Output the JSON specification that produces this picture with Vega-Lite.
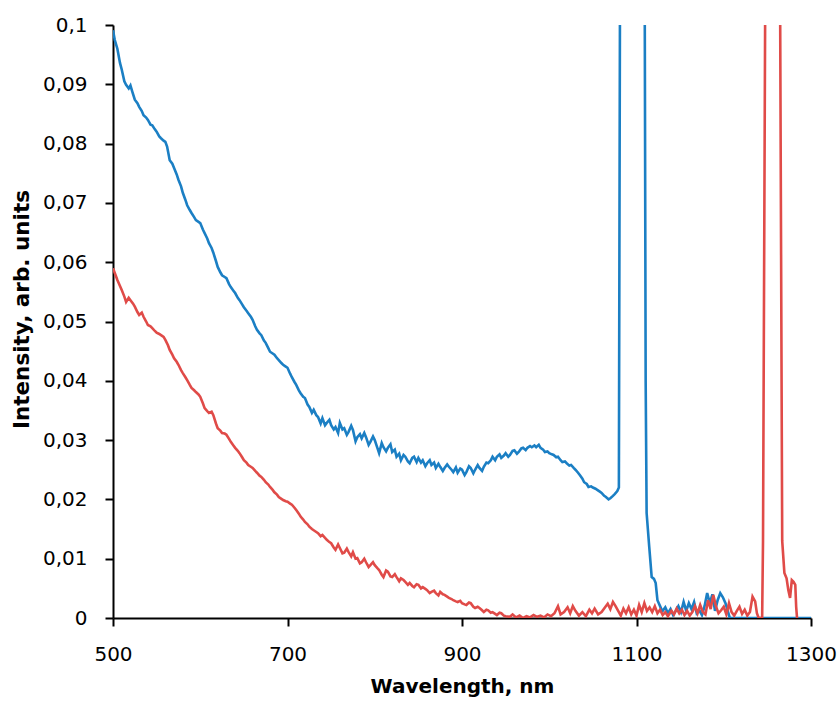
{
  "$schema": "https://vega.github.io/schema/vega-lite/v6.json",
  "autosize": {"type": "none"},
  "width": 698,
  "height": 593,
  "padding": {"left": 113, "top": 25, "right": 29, "bottom": 84},
  "background": "white",
  "config": {
    "view": {"stroke": null},
    "axis": {
      "grid": false,
      "domainColor": "black",
      "domainWidth": 2,
      "tickColor": "black",
      "tickWidth": 2,
      "tickSize": 8,
      "labelFont": "DejaVu Sans",
      "labelFontSize": 20,
      "labelColor": "black",
      "titleFont": "DejaVu Sans",
      "titleFontSize": 20,
      "titleFontWeight": "bold",
      "titleColor": "black"
    }
  },
  "data": {
    "values": [
      {"s":"b","x":500,"y":0.0991},{"s":"b","x":502,"y":0.0975},{"s":"b","x":505,"y":0.0960},{"s":"b","x":508,"y":0.0936},{"s":"b","x":510,"y":0.0925},{"s":"b","x":513,"y":0.0905},{"s":"b","x":515,"y":0.0899},{"s":"b","x":518,"y":0.0893},{"s":"b","x":520,"y":0.0898},{"s":"b","x":522,"y":0.0888},{"s":"b","x":525,"y":0.0874},{"s":"b","x":528,"y":0.0868},{"s":"b","x":530,"y":0.0862},{"s":"b","x":533,"y":0.0855},{"s":"b","x":535,"y":0.0848},{"s":"b","x":538,"y":0.0844},{"s":"b","x":540,"y":0.0840},{"s":"b","x":543,"y":0.0832},{"s":"b","x":545,"y":0.0831},{"s":"b","x":548,"y":0.0824},{"s":"b","x":550,"y":0.0820},{"s":"b","x":553,"y":0.0812},{"s":"b","x":555,"y":0.0809},{"s":"b","x":558,"y":0.0805},{"s":"b","x":560,"y":0.0803},{"s":"b","x":562,"y":0.0795},{"s":"b","x":565,"y":0.0772},{"s":"b","x":568,"y":0.0766},{"s":"b","x":570,"y":0.0759},{"s":"b","x":573,"y":0.0748},{"s":"b","x":575,"y":0.0739},{"s":"b","x":578,"y":0.0728},{"s":"b","x":580,"y":0.0717},{"s":"b","x":583,"y":0.0705},{"s":"b","x":585,"y":0.0696},{"s":"b","x":588,"y":0.0688},{"s":"b","x":590,"y":0.0683},{"s":"b","x":593,"y":0.0676},{"s":"b","x":595,"y":0.0671},{"s":"b","x":598,"y":0.0668},{"s":"b","x":600,"y":0.0666},{"s":"b","x":603,"y":0.0655},{"s":"b","x":605,"y":0.0649},{"s":"b","x":608,"y":0.0640},{"s":"b","x":610,"y":0.0632},{"s":"b","x":613,"y":0.0624},{"s":"b","x":615,"y":0.0616},{"s":"b","x":618,"y":0.0602},{"s":"b","x":620,"y":0.0592},{"s":"b","x":623,"y":0.0583},{"s":"b","x":625,"y":0.0578},{"s":"b","x":628,"y":0.0575},{"s":"b","x":630,"y":0.0573},{"s":"b","x":633,"y":0.0563},{"s":"b","x":635,"y":0.0558},{"s":"b","x":638,"y":0.0552},{"s":"b","x":640,"y":0.0548},{"s":"b","x":643,"y":0.0540},{"s":"b","x":645,"y":0.0536},{"s":"b","x":648,"y":0.0529},{"s":"b","x":650,"y":0.0524},{"s":"b","x":653,"y":0.0518},{"s":"b","x":655,"y":0.0514},{"s":"b","x":658,"y":0.0508},{"s":"b","x":660,"y":0.0503},{"s":"b","x":663,"y":0.0492},{"s":"b","x":665,"y":0.0486},{"s":"b","x":668,"y":0.0480},{"s":"b","x":670,"y":0.0477},{"s":"b","x":673,"y":0.0468},{"s":"b","x":675,"y":0.0464},{"s":"b","x":678,"y":0.0455},{"s":"b","x":680,"y":0.0449},{"s":"b","x":683,"y":0.0446},{"s":"b","x":685,"y":0.0444},{"s":"b","x":688,"y":0.0438},{"s":"b","x":690,"y":0.0435},{"s":"b","x":693,"y":0.0430},{"s":"b","x":695,"y":0.0427},{"s":"b","x":698,"y":0.0424},{"s":"b","x":700,"y":0.0422},{"s":"b","x":703,"y":0.0412},{"s":"b","x":705,"y":0.0406},{"s":"b","x":708,"y":0.0398},{"s":"b","x":710,"y":0.0393},{"s":"b","x":713,"y":0.0384},{"s":"b","x":715,"y":0.0379},{"s":"b","x":718,"y":0.0373},{"s":"b","x":720,"y":0.0371},{"s":"b","x":723,"y":0.0360},{"s":"b","x":725,"y":0.0356},{"s":"b","x":728,"y":0.0346},{"s":"b","x":730,"y":0.0351},{"s":"b","x":733,"y":0.0342},{"s":"b","x":735,"y":0.0339},{"s":"b","x":738,"y":0.0328},{"s":"b","x":740,"y":0.0337},{"s":"b","x":743,"y":0.0325},{"s":"b","x":745,"y":0.0329},{"s":"b","x":748,"y":0.0334},{"s":"b","x":750,"y":0.0325},{"s":"b","x":753,"y":0.0318},{"s":"b","x":755,"y":0.0322},{"s":"b","x":758,"y":0.0312},{"s":"b","x":760,"y":0.0329},{"s":"b","x":763,"y":0.0318},{"s":"b","x":765,"y":0.0320},{"s":"b","x":768,"y":0.0309},{"s":"b","x":770,"y":0.0314},{"s":"b","x":773,"y":0.0324},{"s":"b","x":775,"y":0.0317},{"s":"b","x":778,"y":0.0298},{"s":"b","x":780,"y":0.0305},{"s":"b","x":783,"y":0.0310},{"s":"b","x":785,"y":0.0303},{"s":"b","x":788,"y":0.0312},{"s":"b","x":790,"y":0.0305},{"s":"b","x":793,"y":0.0292},{"s":"b","x":795,"y":0.0297},{"s":"b","x":798,"y":0.0306},{"s":"b","x":800,"y":0.0300},{"s":"b","x":803,"y":0.0287},{"s":"b","x":805,"y":0.0278},{"s":"b","x":808,"y":0.0295},{"s":"b","x":810,"y":0.0288},{"s":"b","x":813,"y":0.0281},{"s":"b","x":815,"y":0.0287},{"s":"b","x":818,"y":0.0293},{"s":"b","x":820,"y":0.0280},{"s":"b","x":823,"y":0.0284},{"s":"b","x":825,"y":0.0272},{"s":"b","x":828,"y":0.0277},{"s":"b","x":830,"y":0.0266},{"s":"b","x":833,"y":0.0275},{"s":"b","x":835,"y":0.0272},{"s":"b","x":838,"y":0.0264},{"s":"b","x":840,"y":0.0261},{"s":"b","x":843,"y":0.0270},{"s":"b","x":845,"y":0.0272},{"s":"b","x":848,"y":0.0263},{"s":"b","x":850,"y":0.0270},{"s":"b","x":853,"y":0.0262},{"s":"b","x":855,"y":0.0266},{"s":"b","x":858,"y":0.0256},{"s":"b","x":860,"y":0.0261},{"s":"b","x":863,"y":0.0266},{"s":"b","x":865,"y":0.0258},{"s":"b","x":868,"y":0.0262},{"s":"b","x":870,"y":0.0253},{"s":"b","x":873,"y":0.0260},{"s":"b","x":875,"y":0.0255},{"s":"b","x":878,"y":0.0248},{"s":"b","x":880,"y":0.0253},{"s":"b","x":883,"y":0.0259},{"s":"b","x":885,"y":0.0255},{"s":"b","x":888,"y":0.0250},{"s":"b","x":890,"y":0.0246},{"s":"b","x":893,"y":0.0254},{"s":"b","x":895,"y":0.0245},{"s":"b","x":898,"y":0.0252},{"s":"b","x":900,"y":0.0250},{"s":"b","x":903,"y":0.0241},{"s":"b","x":905,"y":0.0246},{"s":"b","x":908,"y":0.0256},{"s":"b","x":910,"y":0.0253},{"s":"b","x":913,"y":0.0244},{"s":"b","x":915,"y":0.0250},{"s":"b","x":918,"y":0.0258},{"s":"b","x":920,"y":0.0253},{"s":"b","x":923,"y":0.0248},{"s":"b","x":925,"y":0.0255},{"s":"b","x":928,"y":0.0262},{"s":"b","x":930,"y":0.0261},{"s":"b","x":933,"y":0.0266},{"s":"b","x":935,"y":0.0272},{"s":"b","x":938,"y":0.0266},{"s":"b","x":940,"y":0.0272},{"s":"b","x":943,"y":0.0276},{"s":"b","x":945,"y":0.0270},{"s":"b","x":948,"y":0.0274},{"s":"b","x":950,"y":0.0278},{"s":"b","x":953,"y":0.0272},{"s":"b","x":955,"y":0.0275},{"s":"b","x":958,"y":0.0282},{"s":"b","x":960,"y":0.0283},{"s":"b","x":963,"y":0.0277},{"s":"b","x":965,"y":0.0280},{"s":"b","x":968,"y":0.0286},{"s":"b","x":970,"y":0.0287},{"s":"b","x":973,"y":0.0283},{"s":"b","x":975,"y":0.0287},{"s":"b","x":978,"y":0.0290},{"s":"b","x":980,"y":0.0288},{"s":"b","x":983,"y":0.0291},{"s":"b","x":985,"y":0.0288},{"s":"b","x":988,"y":0.0292},{"s":"b","x":990,"y":0.0287},{"s":"b","x":993,"y":0.0284},{"s":"b","x":995,"y":0.0280},{"s":"b","x":998,"y":0.0281},{"s":"b","x":1000,"y":0.0278},{"s":"b","x":1003,"y":0.0276},{"s":"b","x":1005,"y":0.0275},{"s":"b","x":1008,"y":0.0271},{"s":"b","x":1010,"y":0.0272},{"s":"b","x":1013,"y":0.0266},{"s":"b","x":1015,"y":0.0263},{"s":"b","x":1018,"y":0.0264},{"s":"b","x":1020,"y":0.0261},{"s":"b","x":1023,"y":0.0257},{"s":"b","x":1025,"y":0.0258},{"s":"b","x":1028,"y":0.0253},{"s":"b","x":1030,"y":0.0250},{"s":"b","x":1033,"y":0.0245},{"s":"b","x":1035,"y":0.0241},{"s":"b","x":1038,"y":0.0235},{"s":"b","x":1040,"y":0.0229},{"s":"b","x":1043,"y":0.0226},{"s":"b","x":1045,"y":0.0221},{"s":"b","x":1048,"y":0.0222},{"s":"b","x":1050,"y":0.0220},{"s":"b","x":1053,"y":0.0218},{"s":"b","x":1055,"y":0.0216},{"s":"b","x":1058,"y":0.0213},{"s":"b","x":1060,"y":0.0211},{"s":"b","x":1063,"y":0.0206},{"s":"b","x":1065,"y":0.0204},{"s":"b","x":1068,"y":0.0200},{"s":"b","x":1070,"y":0.0202},{"s":"b","x":1073,"y":0.0206},{"s":"b","x":1075,"y":0.0209},{"s":"b","x":1078,"y":0.0214},{"s":"b","x":1079.8,"y":0.0220},{"s":"b","x":1081,"y":0.1},{"s":"b","x":1082,"y":0.2},{"s":"b","x":1108,"y":0.2},{"s":"b","x":1109.5,"y":0.1},{"s":"b","x":1110.5,"y":0.04},{"s":"b","x":1111.6,"y":0.0177},{"s":"b","x":1114.6,"y":0.0120},{"s":"b","x":1117.4,"y":0.0069},{"s":"b","x":1120,"y":0.0066},{"s":"b","x":1122,"y":0.0059},{"s":"b","x":1124,"y":0.0030},{"s":"b","x":1127,"y":0.0020},{"s":"b","x":1129,"y":0.0013},{"s":"b","x":1130,"y":0.0012},{"s":"b","x":1133,"y":0.0018},{"s":"b","x":1136,"y":0.0008},{"s":"b","x":1139,"y":0.0015},{"s":"b","x":1142,"y":0.0005},{"s":"b","x":1145,"y":0.0012},{"s":"b","x":1148,"y":0.0020},{"s":"b","x":1151,"y":0.0010},{"s":"b","x":1154,"y":0.0027},{"s":"b","x":1157,"y":0.0012},{"s":"b","x":1160,"y":0.0025},{"s":"b","x":1163,"y":0.0015},{"s":"b","x":1166,"y":0.0027},{"s":"b","x":1169,"y":0.0008},{"s":"b","x":1172,"y":0.0013},{"s":"b","x":1175,"y":0.0005},{"s":"b","x":1178,"y":0.0020},{"s":"b","x":1181,"y":0.0042},{"s":"b","x":1184,"y":0.0025},{"s":"b","x":1187,"y":0.0040},{"s":"b","x":1190,"y":0.0012},{"s":"b","x":1193,"y":0.0030},{"s":"b","x":1196,"y":0.0042},{"s":"b","x":1199,"y":0.0035},{"s":"b","x":1202,"y":0.0025},{"s":"b","x":1205,"y":0.0010},{"s":"b","x":1207,"y":0},{"s":"b","x":1300,"y":0},
      {"s":"r","x":500,"y":0.0590},{"s":"r","x":503,"y":0.0578},{"s":"r","x":505,"y":0.0570},{"s":"r","x":508,"y":0.0560},{"s":"r","x":510,"y":0.0553},{"s":"r","x":513,"y":0.0542},{"s":"r","x":515,"y":0.0533},{"s":"r","x":518,"y":0.0540},{"s":"r","x":520,"y":0.0536},{"s":"r","x":523,"y":0.0530},{"s":"r","x":525,"y":0.0525},{"s":"r","x":528,"y":0.0516},{"s":"r","x":530,"y":0.0511},{"s":"r","x":533,"y":0.0515},{"s":"r","x":535,"y":0.0508},{"s":"r","x":538,"y":0.0500},{"s":"r","x":540,"y":0.0494},{"s":"r","x":543,"y":0.0492},{"s":"r","x":545,"y":0.0489},{"s":"r","x":548,"y":0.0484},{"s":"r","x":550,"y":0.0481},{"s":"r","x":553,"y":0.0479},{"s":"r","x":555,"y":0.0477},{"s":"r","x":558,"y":0.0474},{"s":"r","x":560,"y":0.0469},{"s":"r","x":563,"y":0.0460},{"s":"r","x":565,"y":0.0452},{"s":"r","x":568,"y":0.0444},{"s":"r","x":570,"y":0.0438},{"s":"r","x":573,"y":0.0432},{"s":"r","x":575,"y":0.0427},{"s":"r","x":578,"y":0.0418},{"s":"r","x":580,"y":0.0413},{"s":"r","x":583,"y":0.0406},{"s":"r","x":585,"y":0.0401},{"s":"r","x":588,"y":0.0393},{"s":"r","x":590,"y":0.0388},{"s":"r","x":593,"y":0.0384},{"s":"r","x":595,"y":0.0381},{"s":"r","x":598,"y":0.0377},{"s":"r","x":600,"y":0.0373},{"s":"r","x":603,"y":0.0362},{"s":"r","x":605,"y":0.0354},{"s":"r","x":608,"y":0.0349},{"s":"r","x":610,"y":0.0346},{"s":"r","x":613,"y":0.0348},{"s":"r","x":615,"y":0.0342},{"s":"r","x":618,"y":0.0328},{"s":"r","x":620,"y":0.0320},{"s":"r","x":623,"y":0.0316},{"s":"r","x":625,"y":0.0312},{"s":"r","x":628,"y":0.0311},{"s":"r","x":630,"y":0.0309},{"s":"r","x":633,"y":0.0302},{"s":"r","x":635,"y":0.0297},{"s":"r","x":638,"y":0.0291},{"s":"r","x":640,"y":0.0287},{"s":"r","x":643,"y":0.0282},{"s":"r","x":645,"y":0.0278},{"s":"r","x":648,"y":0.0271},{"s":"r","x":650,"y":0.0266},{"s":"r","x":653,"y":0.0262},{"s":"r","x":655,"y":0.0258},{"s":"r","x":658,"y":0.0255},{"s":"r","x":660,"y":0.0253},{"s":"r","x":663,"y":0.0248},{"s":"r","x":665,"y":0.0245},{"s":"r","x":668,"y":0.0240},{"s":"r","x":670,"y":0.0238},{"s":"r","x":673,"y":0.0233},{"s":"r","x":675,"y":0.0229},{"s":"r","x":678,"y":0.0225},{"s":"r","x":680,"y":0.0221},{"s":"r","x":683,"y":0.0216},{"s":"r","x":685,"y":0.0212},{"s":"r","x":688,"y":0.0208},{"s":"r","x":690,"y":0.0204},{"s":"r","x":693,"y":0.0201},{"s":"r","x":695,"y":0.0199},{"s":"r","x":698,"y":0.0197},{"s":"r","x":700,"y":0.0196},{"s":"r","x":703,"y":0.0193},{"s":"r","x":705,"y":0.0191},{"s":"r","x":708,"y":0.0186},{"s":"r","x":710,"y":0.0182},{"s":"r","x":713,"y":0.0176},{"s":"r","x":715,"y":0.0171},{"s":"r","x":718,"y":0.0166},{"s":"r","x":720,"y":0.0162},{"s":"r","x":723,"y":0.0158},{"s":"r","x":725,"y":0.0154},{"s":"r","x":728,"y":0.0150},{"s":"r","x":730,"y":0.0148},{"s":"r","x":733,"y":0.0145},{"s":"r","x":735,"y":0.0143},{"s":"r","x":738,"y":0.0138},{"s":"r","x":740,"y":0.0140},{"s":"r","x":743,"y":0.0135},{"s":"r","x":745,"y":0.0132},{"s":"r","x":748,"y":0.0128},{"s":"r","x":750,"y":0.0126},{"s":"r","x":753,"y":0.0119},{"s":"r","x":755,"y":0.0115},{"s":"r","x":758,"y":0.0124},{"s":"r","x":760,"y":0.0118},{"s":"r","x":763,"y":0.0109},{"s":"r","x":765,"y":0.0110},{"s":"r","x":768,"y":0.0117},{"s":"r","x":770,"y":0.0111},{"s":"r","x":773,"y":0.0104},{"s":"r","x":775,"y":0.0111},{"s":"r","x":778,"y":0.0100},{"s":"r","x":780,"y":0.0101},{"s":"r","x":783,"y":0.0092},{"s":"r","x":785,"y":0.0094},{"s":"r","x":788,"y":0.0100},{"s":"r","x":790,"y":0.0094},{"s":"r","x":793,"y":0.0086},{"s":"r","x":795,"y":0.0089},{"s":"r","x":798,"y":0.0094},{"s":"r","x":800,"y":0.0089},{"s":"r","x":803,"y":0.0084},{"s":"r","x":805,"y":0.0081},{"s":"r","x":808,"y":0.0073},{"s":"r","x":810,"y":0.0069},{"s":"r","x":813,"y":0.0080},{"s":"r","x":815,"y":0.0078},{"s":"r","x":818,"y":0.0070},{"s":"r","x":820,"y":0.0069},{"s":"r","x":823,"y":0.0074},{"s":"r","x":825,"y":0.0069},{"s":"r","x":828,"y":0.0062},{"s":"r","x":830,"y":0.0067},{"s":"r","x":833,"y":0.0064},{"s":"r","x":835,"y":0.0061},{"s":"r","x":838,"y":0.0056},{"s":"r","x":840,"y":0.0059},{"s":"r","x":843,"y":0.0054},{"s":"r","x":845,"y":0.0052},{"s":"r","x":848,"y":0.0057},{"s":"r","x":850,"y":0.0056},{"s":"r","x":853,"y":0.0050},{"s":"r","x":855,"y":0.0052},{"s":"r","x":858,"y":0.0049},{"s":"r","x":860,"y":0.0047},{"s":"r","x":863,"y":0.0042},{"s":"r","x":865,"y":0.0044},{"s":"r","x":868,"y":0.0046},{"s":"r","x":870,"y":0.0042},{"s":"r","x":873,"y":0.0038},{"s":"r","x":875,"y":0.0044},{"s":"r","x":878,"y":0.0040},{"s":"r","x":880,"y":0.0039},{"s":"r","x":883,"y":0.0036},{"s":"r","x":885,"y":0.0034},{"s":"r","x":888,"y":0.0032},{"s":"r","x":890,"y":0.0030},{"s":"r","x":893,"y":0.0028},{"s":"r","x":895,"y":0.0027},{"s":"r","x":898,"y":0.0029},{"s":"r","x":900,"y":0.0025},{"s":"r","x":903,"y":0.0023},{"s":"r","x":905,"y":0.0022},{"s":"r","x":908,"y":0.0026},{"s":"r","x":910,"y":0.0025},{"s":"r","x":913,"y":0.0019},{"s":"r","x":915,"y":0.0017},{"s":"r","x":918,"y":0.0019},{"s":"r","x":920,"y":0.0017},{"s":"r","x":923,"y":0.0013},{"s":"r","x":925,"y":0.0010},{"s":"r","x":928,"y":0.0014},{"s":"r","x":930,"y":0.0013},{"s":"r","x":933,"y":0.0009},{"s":"r","x":935,"y":0.0010},{"s":"r","x":938,"y":0.0007},{"s":"r","x":940,"y":0.0005},{"s":"r","x":943,"y":0.0009},{"s":"r","x":945,"y":0.0008},{"s":"r","x":948,"y":0.0004},{"s":"r","x":950,"y":0.0003},{"s":"r","x":955,"y":0.0002},{"s":"r","x":958,"y":0.0006},{"s":"r","x":962,"y":0.0001},{"s":"r","x":966,"y":0.0004},{"s":"r","x":970,"y":0.0},{"s":"r","x":974,"y":0.0003},{"s":"r","x":978,"y":0.0001},{"s":"r","x":982,"y":0.0005},{"s":"r","x":986,"y":0.0002},{"s":"r","x":990,"y":0.0004},{"s":"r","x":994,"y":0.0001},{"s":"r","x":998,"y":0.0006},{"s":"r","x":1002,"y":0.0003},{"s":"r","x":1006,"y":0.0008},{"s":"r","x":1010,"y":0.0020},{"s":"r","x":1013,"y":0.0006},{"s":"r","x":1017,"y":0.0010},{"s":"r","x":1021,"y":0.0018},{"s":"r","x":1024,"y":0.0008},{"s":"r","x":1027,"y":0.0020},{"s":"r","x":1030,"y":0.0012},{"s":"r","x":1034,"y":0.0004},{"s":"r","x":1038,"y":0.0010},{"s":"r","x":1042,"y":0.0003},{"s":"r","x":1046,"y":0.0014},{"s":"r","x":1049,"y":0.0008},{"s":"r","x":1052,"y":0.0016},{"s":"r","x":1056,"y":0.0006},{"s":"r","x":1060,"y":0.0010},{"s":"r","x":1064,"y":0.0018},{"s":"r","x":1067,"y":0.0024},{"s":"r","x":1070,"y":0.0015},{"s":"r","x":1073,"y":0.0027},{"s":"r","x":1076,"y":0.0020},{"s":"r","x":1079,"y":0.0012},{"s":"r","x":1082,"y":0.0004},{"s":"r","x":1085,"y":0.0016},{"s":"r","x":1088,"y":0.0008},{"s":"r","x":1091,"y":0.0018},{"s":"r","x":1094,"y":0.0006},{"s":"r","x":1097,"y":0.0014},{"s":"r","x":1100,"y":0.0004},{"s":"r","x":1103,"y":0.0022},{"s":"r","x":1106,"y":0.0010},{"s":"r","x":1109,"y":0.0025},{"s":"r","x":1112,"y":0.0012},{"s":"r","x":1115,"y":0.0018},{"s":"r","x":1118,"y":0.0010},{"s":"r","x":1121,"y":0.0020},{"s":"r","x":1124,"y":0.0008},{"s":"r","x":1127,"y":0.0014},{"s":"r","x":1130,"y":0.0005},{"s":"r","x":1133,"y":0.0010},{"s":"r","x":1136,"y":0.0003},{"s":"r","x":1140,"y":0.0012},{"s":"r","x":1143,"y":0.0006},{"s":"r","x":1146,"y":0.0016},{"s":"r","x":1149,"y":0.0008},{"s":"r","x":1152,"y":0.0014},{"s":"r","x":1155,"y":0.0005},{"s":"r","x":1158,"y":0.0012},{"s":"r","x":1161,"y":0.0004},{"s":"r","x":1164,"y":0.0010},{"s":"r","x":1167,"y":0.0020},{"s":"r","x":1170,"y":0.0008},{"s":"r","x":1173,"y":0.0022},{"s":"r","x":1176,"y":0.0010},{"s":"r","x":1179,"y":0.0006},{"s":"r","x":1182,"y":0.0030},{"s":"r","x":1185,"y":0.0015},{"s":"r","x":1188,"y":0.0039},{"s":"r","x":1191,"y":0.0020},{"s":"r","x":1194,"y":0.0008},{"s":"r","x":1197,"y":0.0013},{"s":"r","x":1200,"y":0.0019},{"s":"r","x":1203,"y":0.0006},{"s":"r","x":1206,"y":0.0025},{"s":"r","x":1209,"y":0.0010},{"s":"r","x":1212,"y":0.0004},{"s":"r","x":1215,"y":0.0012},{"s":"r","x":1218,"y":0.0019},{"s":"r","x":1221,"y":0.0007},{"s":"r","x":1224,"y":0.0014},{"s":"r","x":1227,"y":0.0004},{"s":"r","x":1230,"y":0.0010},{"s":"r","x":1233,"y":0.0036},{"s":"r","x":1236,"y":0.0028},{"s":"r","x":1238,"y":0.0008},{"s":"r","x":1240,"y":0.0},{"s":"r","x":1244,"y":0.0},{"s":"r","x":1245,"y":0.013},{"s":"r","x":1247.4,"y":0.1},{"s":"r","x":1249,"y":0.2},{"s":"r","x":1263,"y":0.2},{"s":"r","x":1264.7,"y":0.1},{"s":"r","x":1267,"y":0.013},{"s":"r","x":1269.5,"y":0.0076},{"s":"r","x":1272,"y":0.0067},{"s":"r","x":1274,"y":0.0047},{"s":"r","x":1276,"y":0.0034},{"s":"r","x":1278,"y":0.0064},{"s":"r","x":1280,"y":0.0061},{"s":"r","x":1282,"y":0.0056},{"s":"r","x":1283,"y":0.0019},{"s":"r","x":1284,"y":0.0}
    ]
  },
  "encoding": {
    "x": {
      "field": "x", "type": "quantitative",
      "scale": {"domain": [500, 1300], "nice": false, "zero": false},
      "axis": {"values": [500, 700, 900, 1100, 1300], "format": "d", "title": "Wavelength, nm", "labelPadding": 18, "titlePadding": 12, "labelFlush": false}
    },
    "y": {
      "field": "y", "type": "quantitative",
      "scale": {"domain": [0, 0.1], "nice": false},
      "axis": {"values": [0, 0.01, 0.02, 0.03, 0.04, 0.05, 0.06, 0.07, 0.08, 0.09, 0.1], "labelExpr": "replace(format(datum.value, '.2~f'), '.', ',')", "title": "Intensity, arb. units", "titleFontSize": 21.5, "titleY": 284, "labelPadding": 18, "titlePadding": 9}
    },
    "color": {
      "field": "s", "type": "nominal",
      "scale": {"domain": ["b", "r"], "range": ["#1B7FC4", "#E04B48"]},
      "legend": null
    },
    "order": {"field": "x", "type": "quantitative"}
  },
  "layer": [
    {"transform": [{"filter": "datum.s === 'b'"}], "mark": {"type": "line", "clip": true, "strokeWidth": 2.6}},
    {"transform": [{"filter": "datum.s === 'r'"}], "mark": {"type": "line", "clip": true, "strokeWidth": 2.6}}
  ]
}
